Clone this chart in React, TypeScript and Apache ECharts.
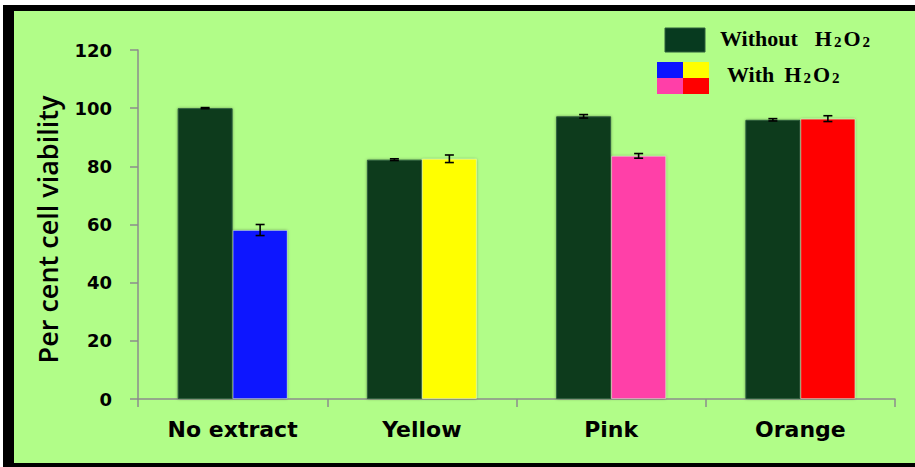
import React, { useEffect, useRef } from "react";
import * as echarts from "echarts";

// Treatment groups along the x axis
const categories = ["No extract", "Yellow", "Pink", "Orange"];

// Per cent cell viability without hydrogen peroxide (mean, ± error)
const withoutH2O2 = [100, 82.3, 97.2, 96.0];
const withoutH2O2Err = [0.2, 0.3, 0.6, 0.4];

// Per cent cell viability with hydrogen peroxide (mean, ± error)
const withH2O2 = [58.1, 82.6, 83.6, 96.4];
const withH2O2Err = [1.9, 1.3, 0.8, 1.0];

// Fill of each "with H2O2" bar, one per group
const withColors = ["#0a14ff", "#ffff00", "#ff3fa8", "#ff0000"];
const withoutColor = "#073a1f";

const yTicks = { min: 0, max: 120, interval: 20 };

const BAR_W = 55;
const AXIS_GRAY = "#8c8c8c";

function errorSeries(values: number[], errs: number[], offset: number, name: string) {
  return {
    type: "custom",
    name,
    z: 10,
    silent: true,
    data: values.map((v, i) => [i, v, errs[i]]),
    encode: { x: 0, y: 1 },
    renderItem: (params: any, api: any) => {
      const idx = api.value(0);
      const v = api.value(1);
      const e = api.value(2);
      const hi = api.coord([idx, v + e]);
      const lo = api.coord([idx, v - e]);
      const x = hi[0] + offset;
      const cap = 4.5;
      const style = { stroke: "#000", lineWidth: 1.6 };
      return {
        type: "group",
        children: [
          { type: "line", shape: { x1: x, y1: hi[1], x2: x, y2: lo[1] }, style },
          { type: "line", shape: { x1: x - cap, y1: hi[1], x2: x + cap, y2: hi[1] }, style },
          { type: "line", shape: { x1: x - cap, y1: lo[1], x2: x + cap, y2: lo[1] }, style },
        ],
      };
    },
  };
}

const legendFont = {
  fontFamily: "Liberation Serif",
  fontWeight: "bold",
  fontSize: 22,
  color: "#000",
};

// Rich-text styles for "H2O2" with lowered subscript digits
function legendRich(gap: number) {
  return {
    a: { ...legendFont, lineHeight: 26, verticalAlign: "bottom" },
    h: { ...legendFont, lineHeight: 26, verticalAlign: "bottom", padding: [0, 1, 0, gap] },
    o: { ...legendFont, lineHeight: 26, verticalAlign: "bottom", padding: [0, 1, 0, 1] },
    s: { ...legendFont, fontSize: 15, lineHeight: 10, verticalAlign: "bottom", padding: [0, 1, 0, 1] },
  };
}

export default function App() {
  const ref = useRef<HTMLDivElement>(null);

  useEffect(() => {
    if (!ref.current) return;
    const chart = echarts.init(ref.current, null, { renderer: "svg" });

    const barEdge = {
      shadowColor: "rgba(0,0,0,0.35)",
      shadowBlur: 3,
    };

    chart.setOption({
      animation: false,
      backgroundColor: "transparent",
      grid: { left: 138, right: 20, top: 50, bottom: 68 },
      xAxis: {
        type: "category",
        data: categories,
        axisLine: { lineStyle: { color: AXIS_GRAY, width: 1.5 } },
        axisTick: { show: true, length: 8, lineStyle: { color: AXIS_GRAY, width: 1.5 } },
        axisLabel: {
          fontFamily: "DejaVu Sans",
          fontWeight: "bold",
          fontSize: 22,
          color: "#000",
          margin: 19,
        },
      },
      yAxis: {
        type: "value",
        min: yTicks.min,
        max: yTicks.max,
        interval: yTicks.interval,
        name: "Per cent cell viability",
        nameLocation: "middle",
        nameRotate: 90,
        nameGap: 77,
        nameTextStyle: {
          fontFamily: "Open Sans",
          fontWeight: 600,
          fontSize: 27,
          color: "#000",
          padding: [0, 10, 0, 0],
        },
        axisLine: { show: true, lineStyle: { color: AXIS_GRAY, width: 1.5 } },
        axisTick: { show: true, length: 8, lineStyle: { color: AXIS_GRAY, width: 1.5 } },
        splitLine: { show: false },
        axisLabel: {
          fontFamily: "DejaVu Sans",
          fontWeight: "bold",
          fontSize: 18,
          color: "#000",
          margin: 26,
        },
      },
      series: [
        {
          type: "bar",
          name: "Without H2O2",
          barWidth: BAR_W,
          barGap: "0%",
          data: withoutH2O2,
          itemStyle: { color: withoutColor, borderColor: "#2f5e3d", borderWidth: 1, ...barEdge },
        },
        {
          type: "bar",
          name: "With H2O2",
          barWidth: BAR_W,
          barGap: "0%",
          data: withH2O2.map((v, i) => ({
            value: v,
            itemStyle: { color: withColors[i] },
          })),
          itemStyle: { borderColor: "rgba(255,255,255,0.35)", borderWidth: 1, ...barEdge },
        },
        errorSeries(withoutH2O2, withoutH2O2Err, -BAR_W / 2, "Without H2O2 error"),
        errorSeries(withH2O2, withH2O2Err, BAR_W / 2, "With H2O2 error"),
      ],
      graphic: [
        // Legend: dark swatch for the untreated series
        {
          type: "rect",
          shape: { x: 665, y: 28, width: 40, height: 24 },
          style: { fill: withoutColor, stroke: "#2f5e3d", lineWidth: 1 },
        },
        {
          type: "text",
          x: 720,
          y: 23,
          style: {
            text: "{a|Without}{h|H}{s|2}{o|O}{s|2}",
            rich: legendRich(17),
          },
        },
        // Legend: four-colour swatch for the treated series
        {
          type: "group",
          children: [
            { type: "rect", shape: { x: 657, y: 62, width: 26, height: 16 }, style: { fill: withColors[0] } },
            { type: "rect", shape: { x: 683, y: 62, width: 26, height: 16 }, style: { fill: withColors[1] } },
            { type: "rect", shape: { x: 657, y: 78, width: 26, height: 16 }, style: { fill: withColors[2] } },
            { type: "rect", shape: { x: 683, y: 78, width: 26, height: 16 }, style: { fill: withColors[3] } },
          ],
        },
        {
          type: "text",
          x: 727,
          y: 59,
          style: {
            text: "{a|With}{h|H}{s|2}{o|O}{s|2}",
            rich: legendRich(10),
          },
        },
      ],
    });

    return () => chart.dispose();
  }, []);

  return (
    <div style={{ position: "fixed", left: 0, top: 0, width: 915, height: 467, background: "#ffffff", overflow: "hidden" }}>
      <div style={{ position: "absolute", left: 3, top: 5, width: 912, height: 462, background: "#000000" }} />
      <div style={{ position: "absolute", left: 14, top: 11, width: 901, height: 452, background: "#b1fd88" }} />
      <div ref={ref} style={{ position: "absolute", left: 0, top: 0, width: 915, height: 467 }} />
    </div>
  );
}
